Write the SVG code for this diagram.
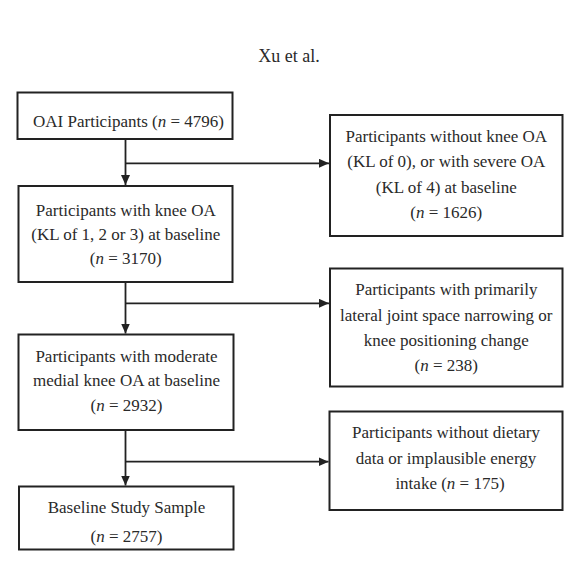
<svg xmlns="http://www.w3.org/2000/svg" width="586" height="564" viewBox="0 0 586 564">
<style>
  text { font-family: "Liberation Serif", "Times New Roman", serif; font-size: 17px; fill: #2a2a2a; text-anchor: middle; }
  .title { font-size: 18px; text-anchor: start; }
  .box { fill: #ffffff; stroke: #222222; stroke-width: 2; }
  .conn { fill: none; stroke: #222222; stroke-width: 1.8; }
  .i { font-style: italic; }
</style>
<defs>
  <marker id="arrow" markerUnits="userSpaceOnUse" viewBox="0 0 10 9" refX="10" refY="4.5" markerWidth="10" markerHeight="9" orient="auto">
    <path d="M0,0 L10,4.5 L0,9 Z" fill="#222222"/>
  </marker>
</defs>
<rect width="586" height="564" fill="#ffffff"/>
<text class="title" x="258.3" y="61.7">Xu et al.</text>

<g id="connectors">
  <path class="conn" d="M125.5,139 V185" marker-end="url(#arrow)"/>
  <path class="conn" d="M125.5,163.3 H329" marker-end="url(#arrow)"/>
  <path class="conn" d="M125.5,282 V333.5" marker-end="url(#arrow)"/>
  <path class="conn" d="M125.5,303.3 H329" marker-end="url(#arrow)"/>
  <path class="conn" d="M125.5,430 V485.5" marker-end="url(#arrow)"/>
  <path class="conn" d="M125.5,461.7 H328.5" marker-end="url(#arrow)"/>
</g>

<g id="oai">
  <rect class="box" x="17.5" y="92.5" width="215" height="46.5"/>
  <text x="128.5" y="127">OAI Participants (<tspan class="i">n</tspan> = 4796)</text>
</g>

<g id="knee-oa">
  <rect class="box" x="18.5" y="186" width="214" height="96"/>
  <text x="125.8" y="216">Participants with knee OA</text>
  <text x="125.8" y="240">(KL of 1, 2 or 3) at baseline</text>
  <text x="125.8" y="264">(<tspan class="i">n</tspan> = 3170)</text>
</g>

<g id="excl-kl">
  <rect class="box" x="330" y="115" width="232.5" height="121"/>
  <text x="446.3" y="141.7">Participants without knee OA</text>
  <text x="446.3" y="167.3">(KL of 0), or with severe OA</text>
  <text x="446.3" y="192.7">(KL of 4) at baseline</text>
  <text x="446.3" y="218.3">(<tspan class="i">n</tspan> = 1626)</text>
</g>

<g id="excl-lateral">
  <rect class="box" x="330" y="268.5" width="232.5" height="118"/>
  <text x="446.3" y="295">Participants with primarily</text>
  <text x="446.3" y="320.7">lateral joint space narrowing or</text>
  <text x="446.3" y="346">knee positioning change</text>
  <text x="446.3" y="370.7">(<tspan class="i">n</tspan> = 238)</text>
</g>

<g id="medial">
  <rect class="box" x="18.5" y="334.5" width="215" height="95.5"/>
  <text x="126.5" y="361.7">Participants with moderate</text>
  <text x="126.5" y="385.7">medial knee OA at baseline</text>
  <text x="126.5" y="410.7">(<tspan class="i">n</tspan> = 2932)</text>
</g>

<g id="excl-diet">
  <rect class="box" x="329.5" y="411.5" width="233" height="98.5"/>
  <text x="446" y="438.3">Participants without dietary</text>
  <text x="446" y="464">data or implausible energy</text>
  <text x="450" y="489.3">intake (<tspan class="i">n</tspan> = 175)</text>
</g>

<g id="sample">
  <rect class="box" x="19" y="486.5" width="214.5" height="63"/>
  <text x="126.5" y="513.3">Baseline Study Sample</text>
  <text x="126.5" y="541.7">(<tspan class="i">n</tspan> = 2757)</text>
</g>
</svg>
